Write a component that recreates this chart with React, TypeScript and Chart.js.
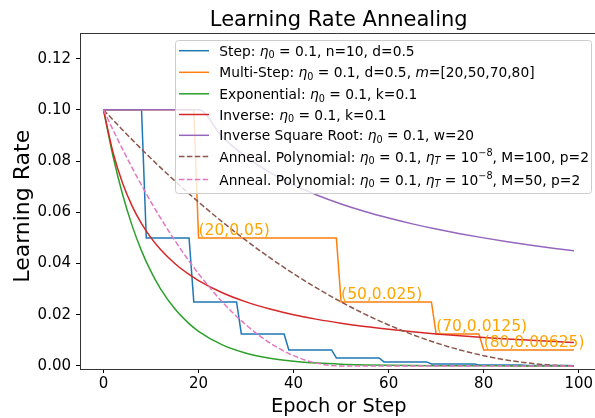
import React, { useEffect, useRef } from "react";
import { Chart, registerables } from "chart.js";

Chart.register(...registerables);

// ---------------- data ----------------
const stepEpochs = [0, 8, 9, 18, 19, 28, 29, 38, 39, 48, 49, 58, 59, 68, 69, 78, 79, 88, 89, 98, 99];
const stepRates = [
  0.1, 0.1, 0.05, 0.05, 0.025, 0.025, 0.0125, 0.0125, 0.00625, 0.00625, 0.003125, 0.003125,
  0.0015625, 0.0015625, 0.00078125, 0.00078125, 0.00039, 0.00039, 0.0002, 0.0002, 0.0001,
];

const multiStepEpochs = [0, 19, 20, 49, 50, 69, 70, 79, 80, 99];
const multiStepRates = [0.1, 0.1, 0.05, 0.05, 0.025, 0.025, 0.0125, 0.0125, 0.00625, 0.00625];

const smoothEpochs = [0, 2, 4, 6, 8, 10, 12, 15, 18, 20, 25, 30, 35, 40, 45, 50, 55, 60, 65, 70, 75, 80, 85, 90, 95, 99];
const expRates = [
  0.1, 0.08187, 0.06703, 0.05488, 0.04493, 0.03679, 0.03012, 0.02231, 0.01653, 0.01353, 0.00821, 0.00498,
  0.00302, 0.00183, 0.00111, 0.00067, 0.00041, 0.00025, 0.00015, 0.00009, 0.00006, 0.00003, 0.00002,
  0.00001, 0.00001, 0.00001,
];
const inverseRates = [
  0.1, 0.08333, 0.07143, 0.0625, 0.05556, 0.05, 0.04545, 0.04, 0.03571, 0.03333, 0.02857, 0.025, 0.02222,
  0.02, 0.01818, 0.01667, 0.01538, 0.01429, 0.01333, 0.0125, 0.01176, 0.01111, 0.01053, 0.01, 0.00952, 0.00917,
];
const invSqrtRates = [
  0.1, 0.1, 0.1, 0.1, 0.1, 0.1, 0.1, 0.1, 0.1, 0.1, 0.08944, 0.08165, 0.07559, 0.07071, 0.06667, 0.06325,
  0.0603, 0.05774, 0.05547, 0.05345, 0.05164, 0.05, 0.04851, 0.04714, 0.04588, 0.04495,
];
const poly100Rates = [
  0.1, 0.09604, 0.09216, 0.08836, 0.08464, 0.081, 0.07744, 0.07225, 0.06724, 0.064, 0.05625, 0.049, 0.04225,
  0.036, 0.03025, 0.025, 0.02025, 0.016, 0.01225, 0.009, 0.00625, 0.004, 0.00225, 0.001, 0.00025, 0.00001,
];
const poly50Rates = [
  0.1, 0.09216, 0.08464, 0.07744, 0.07056, 0.064, 0.05776, 0.049, 0.04096, 0.036, 0.025, 0.016, 0.009, 0.004,
  0.001, 0, 0, 0, 0, 0, 0, 0, 0, 0, 0, 0,
];

const annotEpochs = [20, 50, 70, 80];
const annotRates = [0.05, 0.025, 0.0125, 0.00625];
const annotLabels = ["(20,0.05)", "(50,0.025)", "(70,0.0125)", "(80,0.00625)"];

const xTicks = [0, 20, 40, 60, 80, 100];
const yTicks = [0, 0.02, 0.04, 0.06, 0.08, 0.1, 0.12];

const titleText = "Learning Rate Annealing";
const xLabelText = "Epoch or Step";
const yLabelText = "Learning Rate";

type Seg = [string, string];
const legendLabels: Seg[][] = [
  [["n", "Step: "], ["i", "η"], ["sub", "0"], ["n", " = 0.1, n=10, d=0.5"]],
  [["n", "Multi-Step: "], ["i", "η"], ["sub", "0"], ["n", " = 0.1, d=0.5, "], ["i", "m"], ["n", "=[20,50,70,80]"]],
  [["n", "Exponential: "], ["i", "η"], ["sub", "0"], ["n", " = 0.1, k=0.1"]],
  [["n", "Inverse: "], ["i", "η"], ["sub", "0"], ["n", " = 0.1, k=0.1"]],
  [["n", "Inverse Square Root: "], ["i", "η"], ["sub", "0"], ["n", " = 0.1, w=20"]],
  [["n", "Anneal. Polynomial: "], ["i", "η"], ["sub", "0"], ["n", " = 0.1, "], ["i", "η"], ["subi", "T"], ["n", " = 10"], ["sup", "−8"], ["n", ", M=100, p=2"]],
  [["n", "Anneal. Polynomial: "], ["i", "η"], ["sub", "0"], ["n", " = 0.1, "], ["i", "η"], ["subi", "T"], ["n", " = 10"], ["sup", "−8"], ["n", ", M=50, p=2"]],
];

const seriesColors = ["#1f77b4", "#ff7f0e", "#2ca02c", "#d62728", "#9467bd", "#8c564b", "#e377c2"];
const annotColor = "#FFA500";

// ---------------- layout constants ----------------
const W = 595;
const H = 418;
const FONT = '"DejaVu Sans", "Liberation Sans", sans-serif';
const X_MIN = -4.95;
const X_MAX_FULL = 103.95;
const X_MAX = 103.43;
const Y_MIN = -0.0012;
const Y_MAX = 0.13;
const DASH = [5.5, 2.4];

const pts = (xs: number[], ys: number[]) => xs.map((x, i) => ({ x, y: ys[i] }));

function drawRich(ctx: CanvasRenderingContext2D, segs: Seg[], x: number, y: number, fs: number) {
  let cx = x;
  for (const [kind, text] of segs) {
    let font = `${fs}px ${FONT}`;
    let dy = 0;
    if (kind === "i") font = `italic ${fs}px ${FONT}`;
    else if (kind === "sub") { font = `${fs * 0.7}px ${FONT}`; dy = fs * 0.2; }
    else if (kind === "subi") { font = `italic ${fs * 0.7}px ${FONT}`; dy = fs * 0.2; }
    else if (kind === "sup") { font = `${fs * 0.7}px ${FONT}`; dy = -fs * 0.42; }
    ctx.font = font;
    ctx.fillText(text, cx, y + dy);
    cx += ctx.measureText(text).width;
  }
}

const decorPlugin = {
  id: "decor",
  afterDatasetsDraw(chart: any) {
    const { ctx, chartArea, scales } = chart;
    const xs = scales.x;
    const ys = scales.y;
    ctx.save();
    // top spine
    ctx.strokeStyle = "#333";
    ctx.lineWidth = 1;
    ctx.beginPath();
    ctx.moveTo(chartArea.left, Math.round(chartArea.top) + 0.5);
    ctx.lineTo(chartArea.right, Math.round(chartArea.top) + 0.5);
    ctx.stroke();

    // annotations
    ctx.fillStyle = annotColor;
    ctx.font = `15.5px ${FONT}`;
    ctx.textAlign = "left";
    ctx.textBaseline = "alphabetic";
    annotEpochs.forEach((e, i) => {
      ctx.fillText(annotLabels[i], xs.getPixelForValue(e), ys.getPixelForValue(annotRates[i]) - 3);
    });

    // legend
    const bx = 175, by = 40, bw = 416, bh = 153;
    ctx.fillStyle = "rgba(255,255,255,0.8)";
    ctx.strokeStyle = "#cccccc";
    ctx.lineWidth = 1;
    ctx.beginPath();
    (ctx as any).roundRect(bx + 0.5, by + 0.5, bw, bh, 3);
    ctx.fill();
    ctx.stroke();
    const rowY = [50.7, 72.3, 93.8, 114.5, 135.3, 156.5, 179.5];
    const fs = 13.8;
    legendLabels.forEach((segs, i) => {
      const y = rowY[i];
      ctx.strokeStyle = seriesColors[i];
      ctx.lineWidth = 1.5;
      ctx.setLineDash(i >= 5 ? DASH : []);
      ctx.beginPath();
      ctx.moveTo(179, y);
      ctx.lineTo(209, y);
      ctx.stroke();
      ctx.setLineDash([]);
      ctx.fillStyle = "#000";
      ctx.textBaseline = "alphabetic";
      ctx.textAlign = "left";
      drawRich(ctx, segs, 219.3, y + 5, fs);
    });

    // title and axis labels
    const cx = xs.getPixelForValue((X_MIN + X_MAX_FULL) / 2);
    ctx.fillStyle = "#000";
    ctx.textAlign = "center";
    ctx.font = `21px ${FONT}`;
    ctx.fillText(titleText, cx, 26);
    ctx.font = `19.4px ${FONT}`;
    ctx.fillText(xLabelText, cx, 412);
    ctx.save();
    ctx.translate(29, (ys.getPixelForValue(0) + ys.getPixelForValue(0.12)) / 2 - 6);
    ctx.rotate(-Math.PI / 2);
    ctx.font = `22px ${FONT}`;
    ctx.fillText(yLabelText, 0, 0);
    ctx.restore();
    ctx.restore();
  },
};

const seriesNames = ["Step", "Multi-Step", "Exponential", "Inverse", "Inverse Square Root", "Anneal. Polynomial M=100", "Anneal. Polynomial M=50"];

export default function App() {
  const ref = useRef<HTMLCanvasElement | null>(null);
  useEffect(() => {
    if (!ref.current) return;
    const seriesData = [
      pts(stepEpochs, stepRates),
      pts(multiStepEpochs, multiStepRates),
      pts(smoothEpochs, expRates),
      pts(smoothEpochs, inverseRates),
      pts(smoothEpochs, invSqrtRates),
      pts(smoothEpochs, poly100Rates),
      pts(smoothEpochs, poly50Rates),
    ];
    const datasets = seriesData.map((data, i) => ({
      label: seriesNames[i],
      data,
      borderColor: seriesColors[i],
      backgroundColor: seriesColors[i],
      borderWidth: 1.5,
      pointRadius: 0,
      fill: false,
      tension: 0,
      cubicInterpolationMode: i >= 2 ? "monotone" : "default",
      borderDash: i >= 5 ? DASH : [],
      order: 6 - i,
    }));
    const tickFont = { family: FONT, size: 15 };
    const chart = new Chart(ref.current, {
      type: "line",
      data: { datasets } as any,
      plugins: [decorPlugin],
      options: {
        animation: false,
        responsive: false,
        devicePixelRatio: 1,
        layout: { padding: { top: 33, left: 0, right: 0, bottom: 0 } },
        plugins: { legend: { display: false }, title: { display: false }, tooltip: { enabled: false } },
        scales: {
          x: {
            type: "linear",
            min: X_MIN,
            max: X_MAX,
            afterBuildTicks: (s: any) => { s.ticks = xTicks.map((v) => ({ value: v })); },
            afterFit: (s: any) => { s.height = H - 369; s.paddingLeft = 0; s.paddingRight = 0; s.paddingTop = 0; s.paddingBottom = 0; },
            grid: { display: true, drawOnChartArea: false, drawTicks: true, tickLength: 4, tickColor: "#000", tickWidth: 1 },
            border: { display: true, color: "#333", width: 1 },
            ticks: { font: tickFont, color: "#000", padding: 2, maxRotation: 0, autoSkip: false, callback: (v: any) => String(v) },
          },
          y: {
            type: "linear",
            min: Y_MIN,
            max: Y_MAX,
            afterBuildTicks: (s: any) => { s.ticks = yTicks.map((v) => ({ value: v })); },
            afterFit: (s: any) => { s.width = 80; s.paddingLeft = 0; s.paddingRight = 0; s.paddingTop = 0; s.paddingBottom = 0; },
            grid: { display: true, drawOnChartArea: false, drawTicks: true, tickLength: 4, tickColor: "#000", tickWidth: 1 },
            border: { display: true, color: "#333", width: 1 },
            ticks: { font: tickFont, color: "#000", padding: 5, autoSkip: false, callback: (v: any) => Number(v).toFixed(2) },
          },
        },
      } as any,
    });
    return () => chart.destroy();
  }, []);
  return (
    <div style={{ position: "fixed", left: 0, top: 0, width: W, height: H, background: "#fff" }}>
      <canvas ref={ref} width={W} height={H} style={{ display: "block", width: W, height: H }} />
    </div>
  );
}
